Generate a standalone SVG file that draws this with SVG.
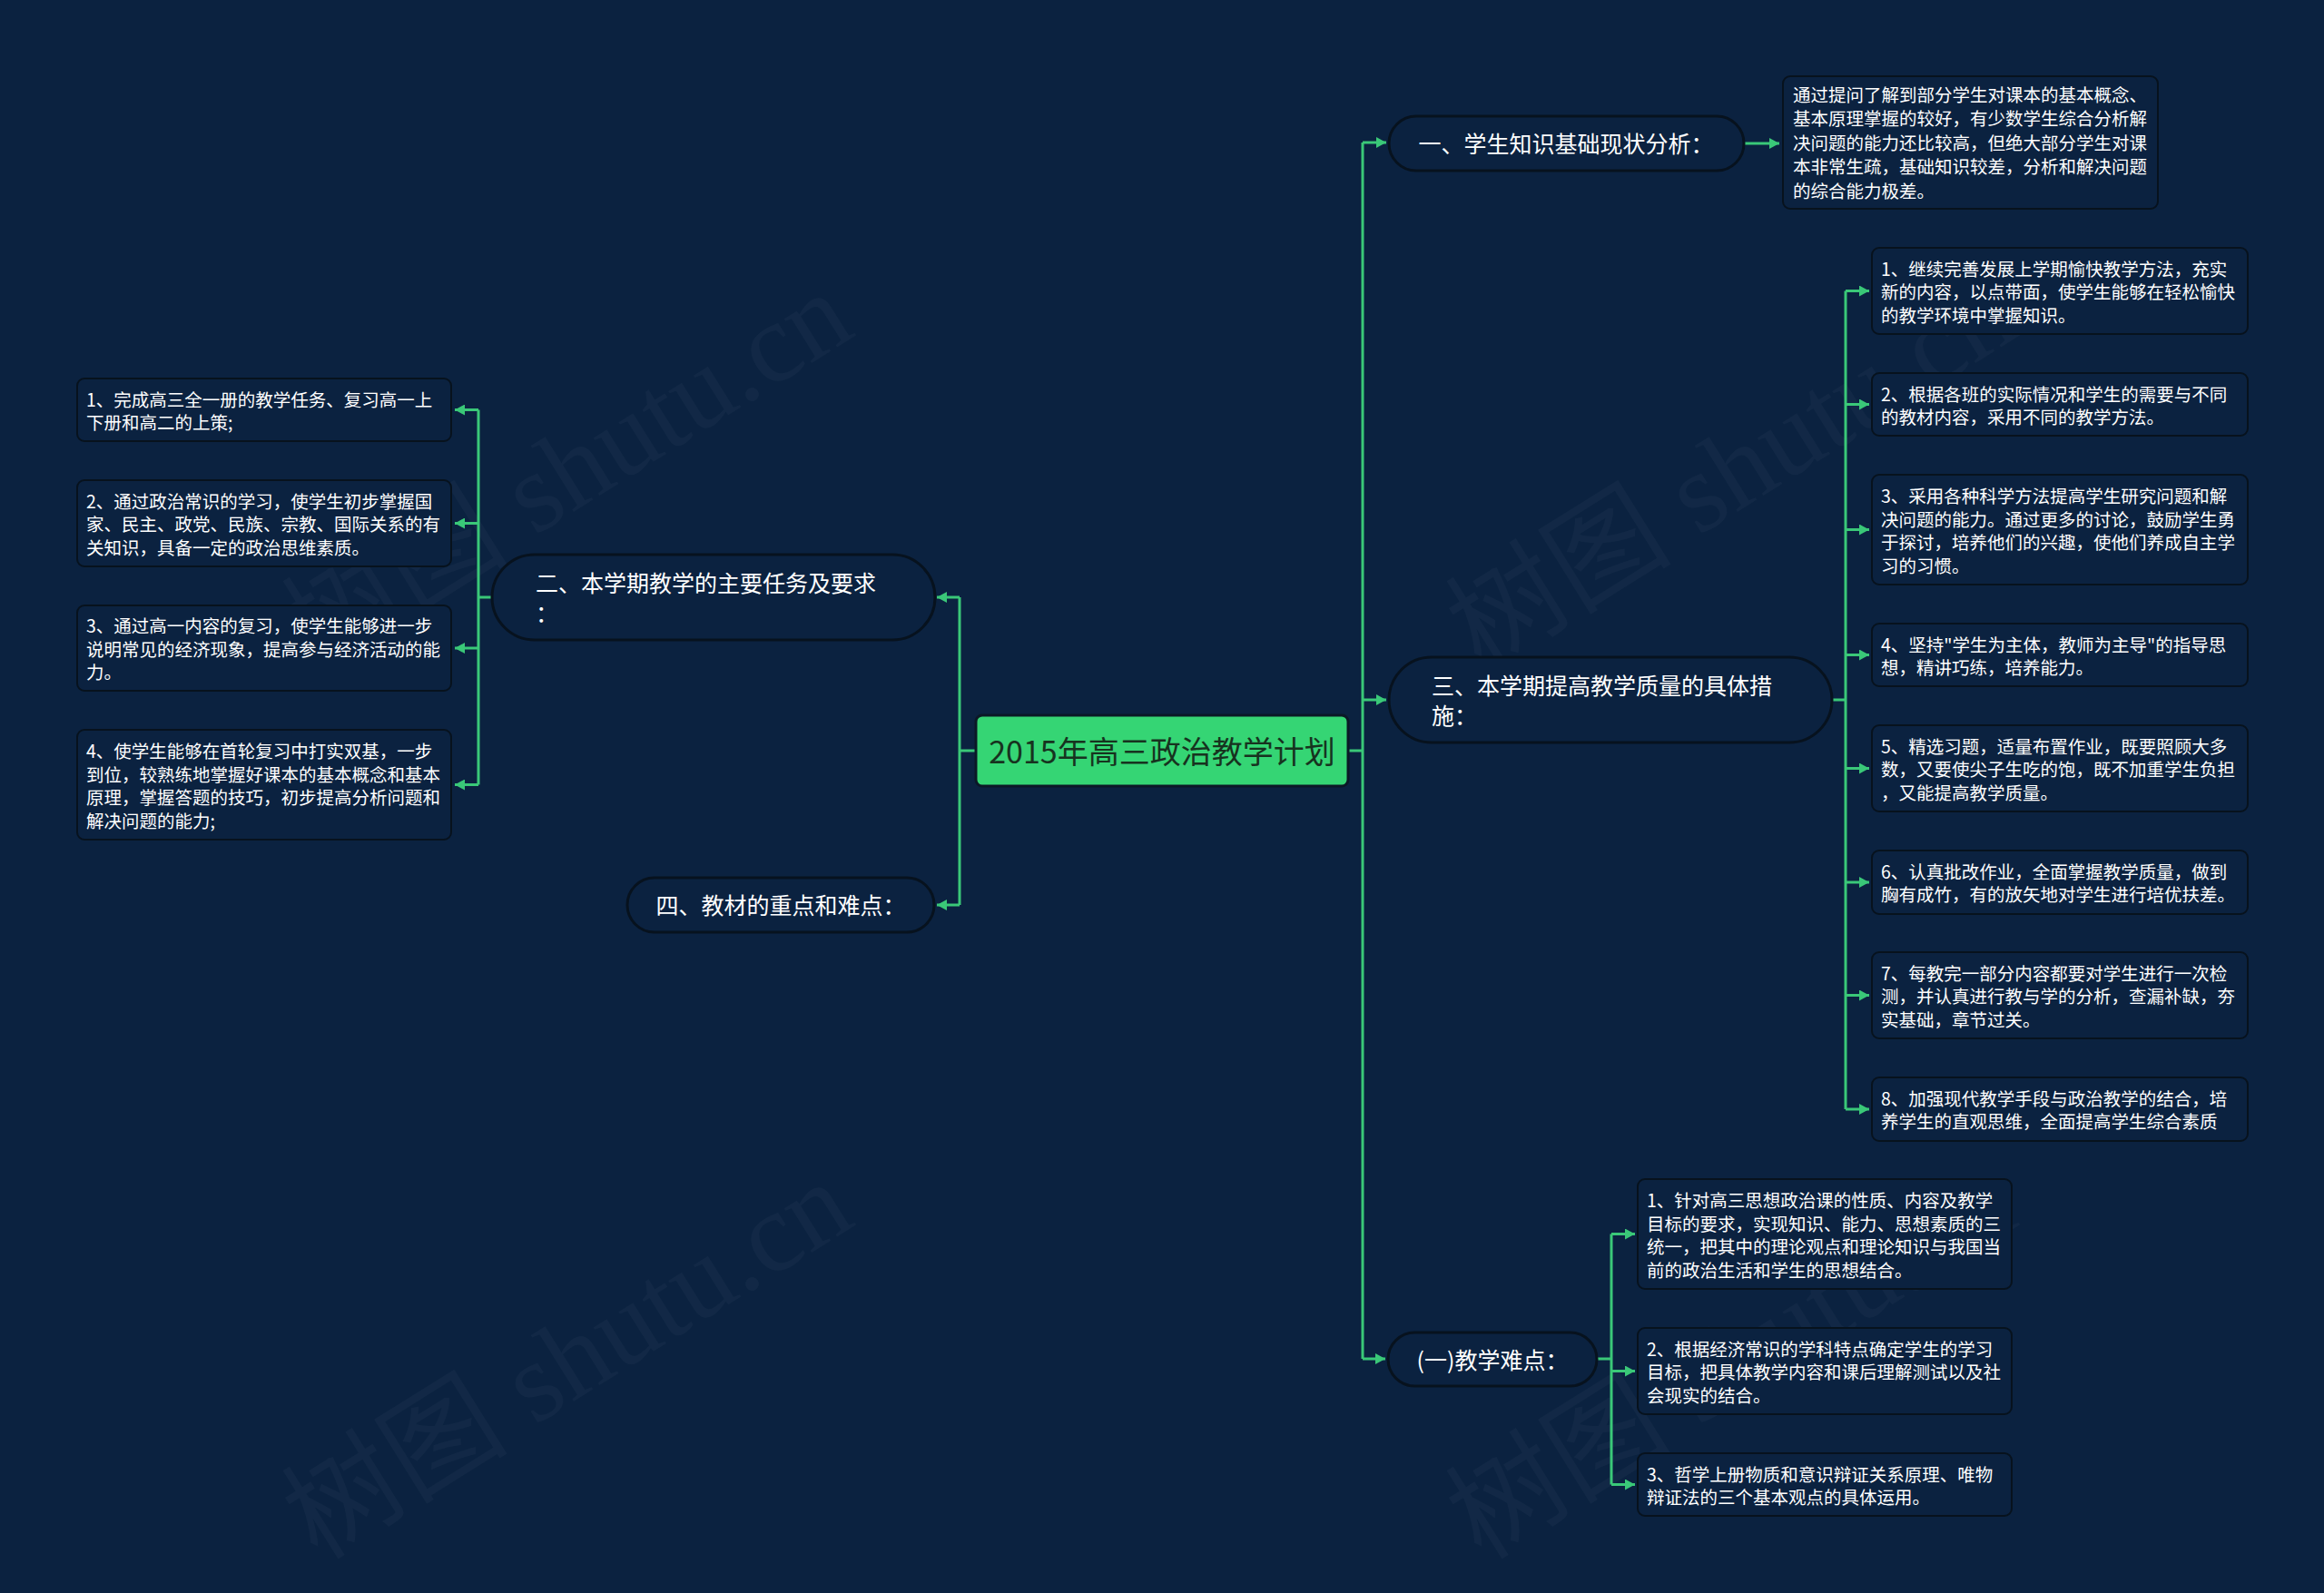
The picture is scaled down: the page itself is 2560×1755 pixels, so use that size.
<svg xmlns="http://www.w3.org/2000/svg" width="2560" height="1755" viewBox="0 0 2560 1755">
<defs>
<style>
.bg{fill:#0b2240}
.wm{font-family:"Liberation Serif","Noto Sans CJK SC",serif;font-size:125px;fill:#ffffff;fill-opacity:0.03}
.root{fill:#35d574;stroke:#0b1826;stroke-width:3}
.roott{font-family:"Noto Sans CJK SC",sans-serif;font-size:34px;fill:#17331f;text-anchor:middle;dominant-baseline:central}
.pill{fill:#0b2240;stroke:#07121e;stroke-width:3}
.pt{font-family:"Noto Sans CJK SC",sans-serif;font-size:25px;fill:#ffffff;dominant-baseline:central}
.ptc{text-anchor:middle}
.box{fill:#0b2240;stroke:#07121d;stroke-width:2}
.bt{font-family:"Noto Sans CJK SC",sans-serif;font-size:19.5px;fill:#ffffff;dominant-baseline:central}
.ln{fill:none;stroke:#3ac878;stroke-width:3}
</style>
<marker id="arr" markerUnits="userSpaceOnUse" markerWidth="12" markerHeight="12" refX="11" refY="6" orient="auto">
<path d="M0,0 L11,6 L0,12 z" fill="#3ac878"/>
</marker>
</defs>
<rect class="bg" x="0" y="0" width="2560" height="1755"/>
<g id="watermarks">
<text class="wm" x="350" y="740" transform="rotate(-32 350 740)">树图 shutu.cn</text>
<text class="wm" x="1632" y="740" transform="rotate(-32 1632 740)">树图 shutu.cn</text>
<text class="wm" x="350" y="1720" transform="rotate(-32 350 1720)">树图 shutu.cn</text>
<text class="wm" x="1632" y="1720" transform="rotate(-32 1632 1720)">树图 shutu.cn</text>
</g>
<g id="connectors">
<path class="ln" d="M1485 827 H1501"/>
<path class="ln" d="M1501 157 V1497"/>
<path class="ln" d="M1501 157 H1527" marker-end="url(#arr)"/>
<path class="ln" d="M1501 771 H1527" marker-end="url(#arr)"/>
<path class="ln" d="M1501 1497 H1526" marker-end="url(#arr)"/>
<path class="ln" d="M1921 158 H1960" marker-end="url(#arr)"/>
<path class="ln" d="M2018 771 H2033"/>
<path class="ln" d="M2033 320.5 V1222"/>
<path class="ln" d="M2033 320.5 H2059" marker-end="url(#arr)"/>
<path class="ln" d="M2033 445.5 H2059" marker-end="url(#arr)"/>
<path class="ln" d="M2033 583.5 H2059" marker-end="url(#arr)"/>
<path class="ln" d="M2033 721.5 H2059" marker-end="url(#arr)"/>
<path class="ln" d="M2033 846.5 H2059" marker-end="url(#arr)"/>
<path class="ln" d="M2033 972 H2059" marker-end="url(#arr)"/>
<path class="ln" d="M2033 1096.5 H2059" marker-end="url(#arr)"/>
<path class="ln" d="M2033 1222 H2059" marker-end="url(#arr)"/>
<path class="ln" d="M1759 1497 H1775"/>
<path class="ln" d="M1775 1359.5 V1635.5"/>
<path class="ln" d="M1775 1359.5 H1801" marker-end="url(#arr)"/>
<path class="ln" d="M1775 1510.5 H1801" marker-end="url(#arr)"/>
<path class="ln" d="M1775 1635.5 H1801" marker-end="url(#arr)"/>
<path class="ln" d="M1075 827 H1057"/>
<path class="ln" d="M1057 658 V997"/>
<path class="ln" d="M1057 658 H1032" marker-end="url(#arr)"/>
<path class="ln" d="M1057 997 H1032" marker-end="url(#arr)"/>
<path class="ln" d="M542 658 H527"/>
<path class="ln" d="M527 451.5 V864.5"/>
<path class="ln" d="M527 451.5 H501" marker-end="url(#arr)"/>
<path class="ln" d="M527 576.5 H501" marker-end="url(#arr)"/>
<path class="ln" d="M527 714 H501" marker-end="url(#arr)"/>
<path class="ln" d="M527 864.5 H501" marker-end="url(#arr)"/>
</g>
<g id="root">
<rect class="root" x="1075" y="788" width="410" height="78" rx="7"/>
<text class="roott" x="1280" y="826">2015年高三政治教学计划</text>
</g>
<g id="n1">
<rect class="pill" x="1530" y="128" width="391" height="60" rx="30"/>
<text class="pt ptc" x="1725" y="157">一、学生知识基础现状分析：</text>
</g>
<g id="n1c">
<rect class="box" x="1964" y="84" width="413" height="146" rx="8"/>
<text class="bt" x="1975" y="103">通过提问了解到部分学生对课本的基本概念、</text>
<text class="bt" x="1975" y="129.5">基本原理掌握的较好，有少数学生综合分析解</text>
<text class="bt" x="1975" y="156">决问题的能力还比较高，但绝大部分学生对课</text>
<text class="bt" x="1975" y="182.5">本非常生疏，基础知识较差，分析和解决问题</text>
<text class="bt" x="1975" y="209">的综合能力极差。</text>
</g>
<g id="n3">
<rect class="pill" x="1530" y="724" width="488" height="94" rx="47"/>
<text class="pt" x="1577" y="753.5">三、本学期提高教学质量的具体措</text>
<text class="pt" x="1577" y="786.5">施：</text>
</g>
<g id="n3c1">
<rect class="box" x="2062" y="273" width="414" height="95" rx="8"/>
<text class="bt" x="2072" y="295">1、继续完善发展上学期愉快教学方法，充实</text>
<text class="bt" x="2072" y="320.5">新的内容，以点带面，使学生能够在轻松愉快</text>
<text class="bt" x="2072" y="346">的教学环境中掌握知识。</text>
</g>
<g id="n3c2">
<rect class="box" x="2062" y="411" width="414" height="69" rx="8"/>
<text class="bt" x="2072" y="433">2、根据各班的实际情况和学生的需要与不同</text>
<text class="bt" x="2072" y="458">的教材内容，采用不同的教学方法。</text>
</g>
<g id="n3c3">
<rect class="box" x="2062" y="523" width="414" height="121" rx="8"/>
<text class="bt" x="2072" y="545.5">3、采用各种科学方法提高学生研究问题和解</text>
<text class="bt" x="2072" y="571">决问题的能力。通过更多的讨论，鼓励学生勇</text>
<text class="bt" x="2072" y="596.5">于探讨，培养他们的兴趣，使他们养成自主学</text>
<text class="bt" x="2072" y="622">习的习惯。</text>
</g>
<g id="n3c4">
<rect class="box" x="2062" y="687" width="414" height="69" rx="8"/>
<text class="bt" x="2072" y="709">4、坚持"学生为主体，教师为主导"的指导思</text>
<text class="bt" x="2072" y="734">想，精讲巧练，培养能力。</text>
</g>
<g id="n3c5">
<rect class="box" x="2062" y="799" width="414" height="95" rx="8"/>
<text class="bt" x="2072" y="821">5、精选习题，适量布置作业，既要照顾大多</text>
<text class="bt" x="2072" y="846.5">数，又要使尖子生吃的饱，既不加重学生负担</text>
<text class="bt" x="2072" y="872">，又能提高教学质量。</text>
</g>
<g id="n3c6">
<rect class="box" x="2062" y="937" width="414" height="70" rx="8"/>
<text class="bt" x="2072" y="959">6、认真批改作业，全面掌握教学质量，做到</text>
<text class="bt" x="2072" y="984.5">胸有成竹，有的放矢地对学生进行培优扶差。</text>
</g>
<g id="n3c7">
<rect class="box" x="2062" y="1049" width="414" height="95" rx="8"/>
<text class="bt" x="2072" y="1071">7、每教完一部分内容都要对学生进行一次检</text>
<text class="bt" x="2072" y="1096.5">测，并认真进行教与学的分析，查漏补缺，夯</text>
<text class="bt" x="2072" y="1122">实基础，章节过关。</text>
</g>
<g id="n3c8">
<rect class="box" x="2062" y="1187" width="414" height="70" rx="8"/>
<text class="bt" x="2072" y="1209">8、加强现代教学手段与政治教学的结合，培</text>
<text class="bt" x="2072" y="1234.5">养学生的直观思维，全面提高学生综合素质</text>
</g>
<g id="n5">
<rect class="pill" x="1529" y="1468" width="230" height="59" rx="29.5"/>
<text class="pt ptc" x="1644" y="1497">(一)教学难点：</text>
</g>
<g id="n5c1">
<rect class="box" x="1804" y="1299" width="412" height="121" rx="8"/>
<text class="bt" x="1814" y="1321.5">1、针对高三思想政治课的性质、内容及教学</text>
<text class="bt" x="1814" y="1347">目标的要求，实现知识、能力、思想素质的三</text>
<text class="bt" x="1814" y="1372.5">统一，把其中的理论观点和理论知识与我国当</text>
<text class="bt" x="1814" y="1398">前的政治生活和学生的思想结合。</text>
</g>
<g id="n5c2">
<rect class="box" x="1804" y="1463" width="412" height="95" rx="8"/>
<text class="bt" x="1814" y="1485">2、根据经济常识的学科特点确定学生的学习</text>
<text class="bt" x="1814" y="1510.5">目标，把具体教学内容和课后理解测试以及社</text>
<text class="bt" x="1814" y="1536">会现实的结合。</text>
</g>
<g id="n5c3">
<rect class="box" x="1804" y="1601" width="412" height="69" rx="8"/>
<text class="bt" x="1814" y="1623">3、哲学上册物质和意识辩证关系原理、唯物</text>
<text class="bt" x="1814" y="1648">辩证法的三个基本观点的具体运用。</text>
</g>
<g id="n2">
<rect class="pill" x="542" y="611" width="488" height="94" rx="47"/>
<text class="pt" x="590" y="640.5">二、本学期教学的主要任务及要求</text>
<text class="pt" x="590" y="673.5">：</text>
</g>
<g id="n2c1">
<rect class="box" x="85" y="417" width="412" height="69" rx="8"/>
<text class="bt" x="95" y="439">1、完成高三全一册的教学任务、复习高一上</text>
<text class="bt" x="95" y="464">下册和高二的上策;</text>
</g>
<g id="n2c2">
<rect class="box" x="85" y="529" width="412" height="95" rx="8"/>
<text class="bt" x="95" y="551">2、通过政治常识的学习，使学生初步掌握国</text>
<text class="bt" x="95" y="576.5">家、民主、政党、民族、宗教、国际关系的有</text>
<text class="bt" x="95" y="602">关知识，具备一定的政治思维素质。</text>
</g>
<g id="n2c3">
<rect class="box" x="85" y="667" width="412" height="94" rx="8"/>
<text class="bt" x="95" y="688.5">3、通过高一内容的复习，使学生能够进一步</text>
<text class="bt" x="95" y="714">说明常见的经济现象，提高参与经济活动的能</text>
<text class="bt" x="95" y="739.5">力。</text>
</g>
<g id="n2c4">
<rect class="box" x="85" y="804" width="412" height="121" rx="8"/>
<text class="bt" x="95" y="826.5">4、使学生能够在首轮复习中打实双基，一步</text>
<text class="bt" x="95" y="852">到位，较熟练地掌握好课本的基本概念和基本</text>
<text class="bt" x="95" y="877.5">原理，掌握答题的技巧，初步提高分析问题和</text>
<text class="bt" x="95" y="903">解决问题的能力;</text>
</g>
<g id="n4">
<rect class="pill" x="691" y="967" width="338" height="60" rx="30"/>
<text class="pt ptc" x="860" y="996">四、教材的重点和难点：</text>
</g>
</svg>
